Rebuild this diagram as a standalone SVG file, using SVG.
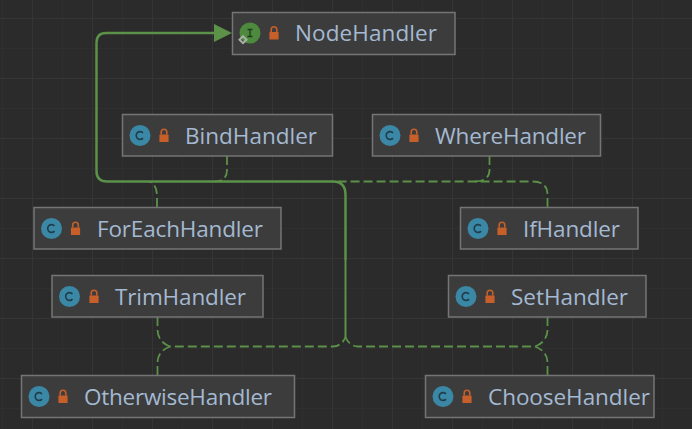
<svg xmlns="http://www.w3.org/2000/svg" width="692" height="429" viewBox="0 0 692 429">
<style>
.box{fill:#3c3c3c;stroke:#757575;stroke-width:1.5}
.t{font-family:"Open Sans","Noto Sans",sans-serif;font-size:22.5px;fill:#a4b9d2}
.c{fill:#3b87a6}
.i{fill:#4e8a3e}
.lock{fill:#c75f2b}
.solid{fill:none;stroke:#5b9149;stroke-width:2.500}
.thin{fill:none;stroke:#5b9149;stroke-width:2}
.dash{fill:none;stroke:#5b9149;stroke-width:1.800;stroke-dasharray:9 4}
</style>
<defs>
<pattern id="minor" width="30" height="30" patternUnits="userSpaceOnUse" x="2" y="18"><path d="M0 .5H30M.5 0V30" fill="none" stroke="#2f2f2f" stroke-width="1"/></pattern>
<pattern id="major" width="60" height="60" patternUnits="userSpaceOnUse" x="32" y="18"><path d="M0 .5H60M.5 0V60" fill="none" stroke="#353535" stroke-width="1"/></pattern>
<g id="lock"><path d="M-2.800 -1V-3.500A2.800 2.800 0 0 1 2.800 -3.500V-1" fill="none" stroke="#c75f2b" stroke-width="1.600"/><rect class="lock" x="-4.600" y="-1" width="9.200" height="7.500" rx=".6"/></g>
<g id="ci"><circle class="c" r="10.500"/><path d="M3 -2.600A3.900 3.900 0 1 0 3 2.600" fill="none" stroke="#1f3d4a" stroke-width="1.600"/></g>
</defs>
<rect width="692" height="429" fill="#2b2b2b"/>
<rect width="692" height="429" fill="url(#minor)"/>
<rect width="692" height="429" fill="url(#major)"/>
<g id="connectors">
<path class="dash" d="M227 156V170Q227 181 215 181.500"/>
<path class="dash" d="M157 207V196Q157 184 149 181.500"/>
<path class="dash" d="M489.500 156V170Q489.500 181 475 181.500"/>
<path class="dash" d="M547.500 207V195Q547.500 181.500 533 181.500H335"/>
<path class="dash" d="M157.500 317V330Q158 342 170 346.500"/>
<path class="dash" d="M157.500 375V362Q158 351 170 346.500H333Q342 346 345.500 337"/>
<path class="dash" d="M547.500 317V330Q547 342 535 346.500H358Q349 346 345.500 337"/>
<path class="dash" d="M547.500 375V362Q547 351 535 346.500"/>
<path class="thin" d="M345.500 337V260"/>
<path class="solid" d="M214 33H106Q96.500 33 96.500 43V171Q96.500 181.500 107 181.500H333Q345.500 181.500 345.500 195V260"/>
<path d="M214 24L232 33L214 42Z" fill="#5b9149"/>
</g>
<g id="NodeHandler"><rect class="box" x="232.500" y="12.500" width="222.500" height="42"/><circle class="i" cx="250" cy="33" r="10.500"/><path d="M247.500 29.500H252.500M250 29.500V36.500M247.500 36.500H252.500" fill="none" stroke="#1f3a1c" stroke-width="1.300"/><path d="M243 36.200L246.500 39.700L243 43.200L239.500 39.700Z" fill="none" stroke="#a9b0a9" stroke-width="2"/><use href="#lock" x="274" y="33"/><text class="t" x="295" y="41" textLength="142">NodeHandler</text></g>
<g id="BindHandler"><rect class="box" x="122.500" y="114.500" width="210" height="41.500"/><use href="#ci" x="140" y="135.500"/><use href="#lock" x="164" y="135.500"/><text class="t" x="185" y="144" textLength="132">BindHandler</text></g>
<g id="WhereHandler"><rect class="box" x="372.500" y="114.500" width="228" height="41.500"/><use href="#ci" x="390" y="135.500"/><use href="#lock" x="414" y="135.500"/><text class="t" x="435" y="144" textLength="151">WhereHandler</text></g>
<g id="ForEachHandler"><rect class="box" x="34" y="207.500" width="247" height="41.500"/><use href="#ci" x="51.500" y="228.500"/><use href="#lock" x="75.500" y="228.500"/><text class="t" x="97" y="237" textLength="166">ForEachHandler</text></g>
<g id="IfHandler"><rect class="box" x="460.500" y="207.500" width="177.500" height="41.500"/><use href="#ci" x="478" y="228.500"/><use href="#lock" x="502" y="228.500"/><text class="t" x="523" y="237" textLength="97">IfHandler</text></g>
<g id="TrimHandler"><rect class="box" x="52" y="275.500" width="211" height="41.500"/><use href="#ci" x="69.500" y="296.500"/><use href="#lock" x="94" y="296.500"/><text class="t" x="115" y="305" textLength="131">TrimHandler</text></g>
<g id="SetHandler"><rect class="box" x="448.500" y="275.500" width="197.500" height="41.500"/><use href="#ci" x="466" y="296.500"/><use href="#lock" x="490" y="296.500"/><text class="t" x="511" y="305" textLength="117">SetHandler</text></g>
<g id="OtherwiseHandler"><rect class="box" x="21.500" y="375.500" width="273" height="42"/><use href="#ci" x="39" y="396.500"/><use href="#lock" x="63" y="396.500"/><text class="t" x="84" y="405" textLength="188">OtherwiseHandler</text></g>
<g id="ChooseHandler"><rect class="box" x="425.500" y="375.500" width="228.500" height="42"/><use href="#ci" x="443" y="396.500"/><use href="#lock" x="467" y="396.500"/><text class="t" x="488" y="405" textLength="162">ChooseHandler</text></g>
</svg>
